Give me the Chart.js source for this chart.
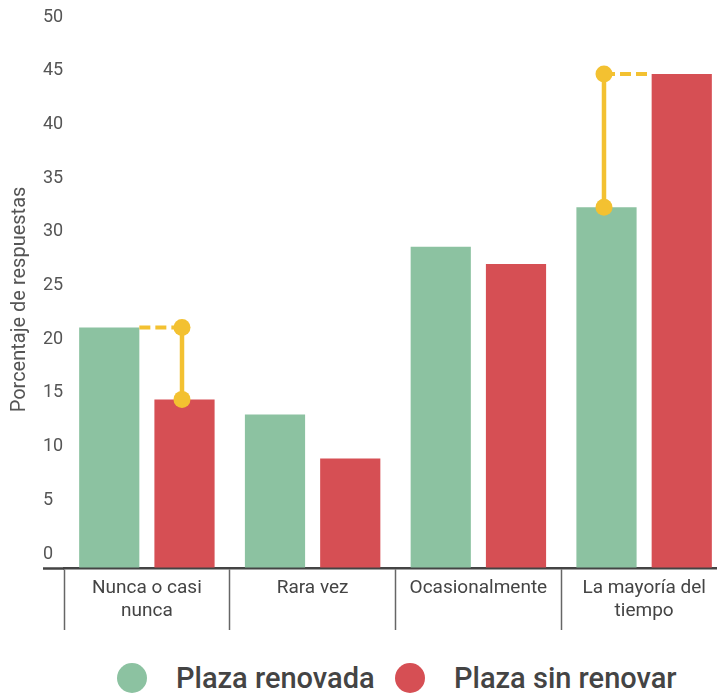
<!DOCTYPE html>
<html>
<head>
<meta charset="utf-8">
<script src="https://cdn.jsdelivr.net/npm/chart.js@4.4.1/dist/chart.umd.min.js"></script>
<style>
  html, body { margin: 0; padding: 0; background: #ffffff; overflow: hidden; }
  #wrap { position: relative; width: 717px; height: 695px; overflow: hidden; }
  #c { position: absolute; left: 0; top: 0; }
  #legend { position: absolute; left: 0; top: 662px; width: 717px; height: 32px; font-family: Roboto, sans-serif; }
  .li { position: absolute; top: 0; height: 32px; display: flex; align-items: center; white-space: nowrap; }
  .dot { width: 30px; height: 30px; border-radius: 50%; flex: none; }
  .lt { font-size: 29px; font-weight: 500; color: #444444; margin-left: 29px; line-height: 32px; }
</style>
</head>
<body>
<div id="wrap">
  <canvas id="c" width="727" height="640"></canvas>
  <div id="legend"></div>
</div>
<script>
// ---- data ----
const categories = [["Nunca o casi", "nunca"], "Rara vez", "Ocasionalmente", ["La mayoría del", "tiempo"]];
const seriesNames = ["Plaza renovada", "Plaza sin renovar"];
const plazaRenovada = [22.4, 14.3, 29.9, 33.6];
const plazaSinRenovar = [15.7, 10.2, 28.3, 46.0];
const yTickMin = 0;
const yTickMax = 50;
const yTickStep = 5;
const yAxisTitle = "Porcentaje de respuestas";
const highlightedCategories = [0, 3];   // categories with the yellow gap marker

// ---- styles ----
const GREEN = "#8cc2a1";
const RED = "#d64f54";
const YELLOW = "#f3c131";
const seriesColors = [GREEN, RED];
const DOT_SHIFT = -2.5;

// yellow gap markers, positioned from the library's own bar elements and y scale
const gapMarkers = {
  id: "gapMarkers",
  afterDatasetsDraw(chart) {
    const ctx = chart.ctx;
    const yS = chart.scales.y;
    const metaG = chart.getDatasetMeta(0);
    const metaR = chart.getDatasetMeta(1);
    highlightedCategories.forEach(i => {
      const g = plazaRenovada[i], r = plazaSinRenovar[i];
      const greenTaller = g > r;
      const tall = (greenTaller ? metaG : metaR).data[i];
      const short = (greenTaller ? metaR : metaG).data[i];
      const dotX = short.x + DOT_SHIFT;
      const yHi = yS.getPixelForValue(Math.max(g, r));
      const yLo = yS.getPixelForValue(Math.min(g, r));
      const edgeX = greenTaller ? tall.x + tall.width / 2 : tall.x - tall.width / 2;
      ctx.save();
      ctx.strokeStyle = YELLOW;
      ctx.fillStyle = YELLOW;
      // dashed connector at the taller bar's level
      ctx.lineWidth = 4;
      ctx.setLineDash([11, 5]);
      ctx.beginPath();
      ctx.moveTo(Math.min(edgeX, dotX), yHi);
      ctx.lineTo(Math.max(edgeX, dotX), yHi);
      ctx.stroke();
      // solid vertical gap
      ctx.setLineDash([]);
      ctx.lineWidth = 4.5;
      ctx.beginPath();
      ctx.moveTo(dotX, yLo);
      ctx.lineTo(dotX, yHi);
      ctx.stroke();
      // end dots
      [yLo, yHi].forEach(yy => {
        ctx.beginPath();
        ctx.arc(dotX, yy, 8.5, 0, Math.PI * 2);
        ctx.fill();
      });
      ctx.restore();
    });
  }
};

Chart.defaults.font.family = "Roboto, 'Open Sans', sans-serif";

new Chart(document.getElementById("c"), {
  type: "bar",
  data: {
    labels: categories,
    datasets: [
      {
        label: seriesNames[0], data: plazaRenovada, backgroundColor: seriesColors[0],
        borderWidth: 0, categoryPercentage: 0.908, barPercentage: 0.8
      },
      {
        label: seriesNames[1], data: plazaSinRenovar, backgroundColor: seriesColors[1],
        borderWidth: 0, categoryPercentage: 0.908, barPercentage: 0.8
      }
    ]
  },
  plugins: [gapMarkers],
  options: {
    responsive: false,
    animation: false,
    events: [],
    layout: { padding: { top: 31, left: 0, right: 0, bottom: 0 } },
    plugins: { legend: { display: false }, tooltip: { enabled: false }, title: { display: false } },
    scales: {
      x: {
        type: "category",
        offset: true,
        grid: { offset: true, display: true, drawOnChartArea: false, drawTicks: true, tickLength: 62, tickWidth: 1.5, tickColor: "#666666" },
        border: { display: true, color: "#444444", width: 2.5 },
        ticks: { color: "#444444", font: { size: 19, lineHeight: 1.25 }, padding: -54, maxRotation: 0, minRotation: 0, autoSkip: false },
        afterFit: s => { s.height = 72; }
      },
      y: {
        type: "linear", position: "left", weight: 0,
        min: yTickMin, max: yTickMax,
        ticks: { stepSize: yTickStep, crossAlign: "far", labelOffset: -14, color: "#555555", font: { size: 18 }, padding: 0 },
        grid: {
          display: true, drawOnChartArea: false, drawTicks: true, tickLength: 21, tickWidth: 2.5,
          tickColor: ctx => (ctx.tick && ctx.tick.value === 0) ? "#444444" : "rgba(0,0,0,0)"
        },
        border: { display: false },
        afterFit: s => { s.width = 21; }
      },
      yTitle: {
        type: "linear", position: "left", weight: 10, display: true,
        ticks: { display: false },
        grid: { display: false, drawTicks: false },
        border: { display: false },
        title: { display: true, text: yAxisTitle, color: "#555555", font: { size: 20, lineHeight: 1.2 }, padding: { top: 8, bottom: 0 } },
        afterFit: s => { s.width = 43; }
      }
    }
  }
});

// legend (HTML)
const legendPos = [117, 395];
const lg = document.getElementById("legend");
seriesNames.forEach((name, k) => {
  const item = document.createElement("div");
  item.className = "li";
  item.style.left = legendPos[k] + "px";
  const d = document.createElement("div");
  d.className = "dot";
  d.style.background = seriesColors[k];
  const t = document.createElement("span");
  t.className = "lt";
  t.textContent = name;
  item.appendChild(d); item.appendChild(t);
  lg.appendChild(item);
});
</script>
</body>
</html>
